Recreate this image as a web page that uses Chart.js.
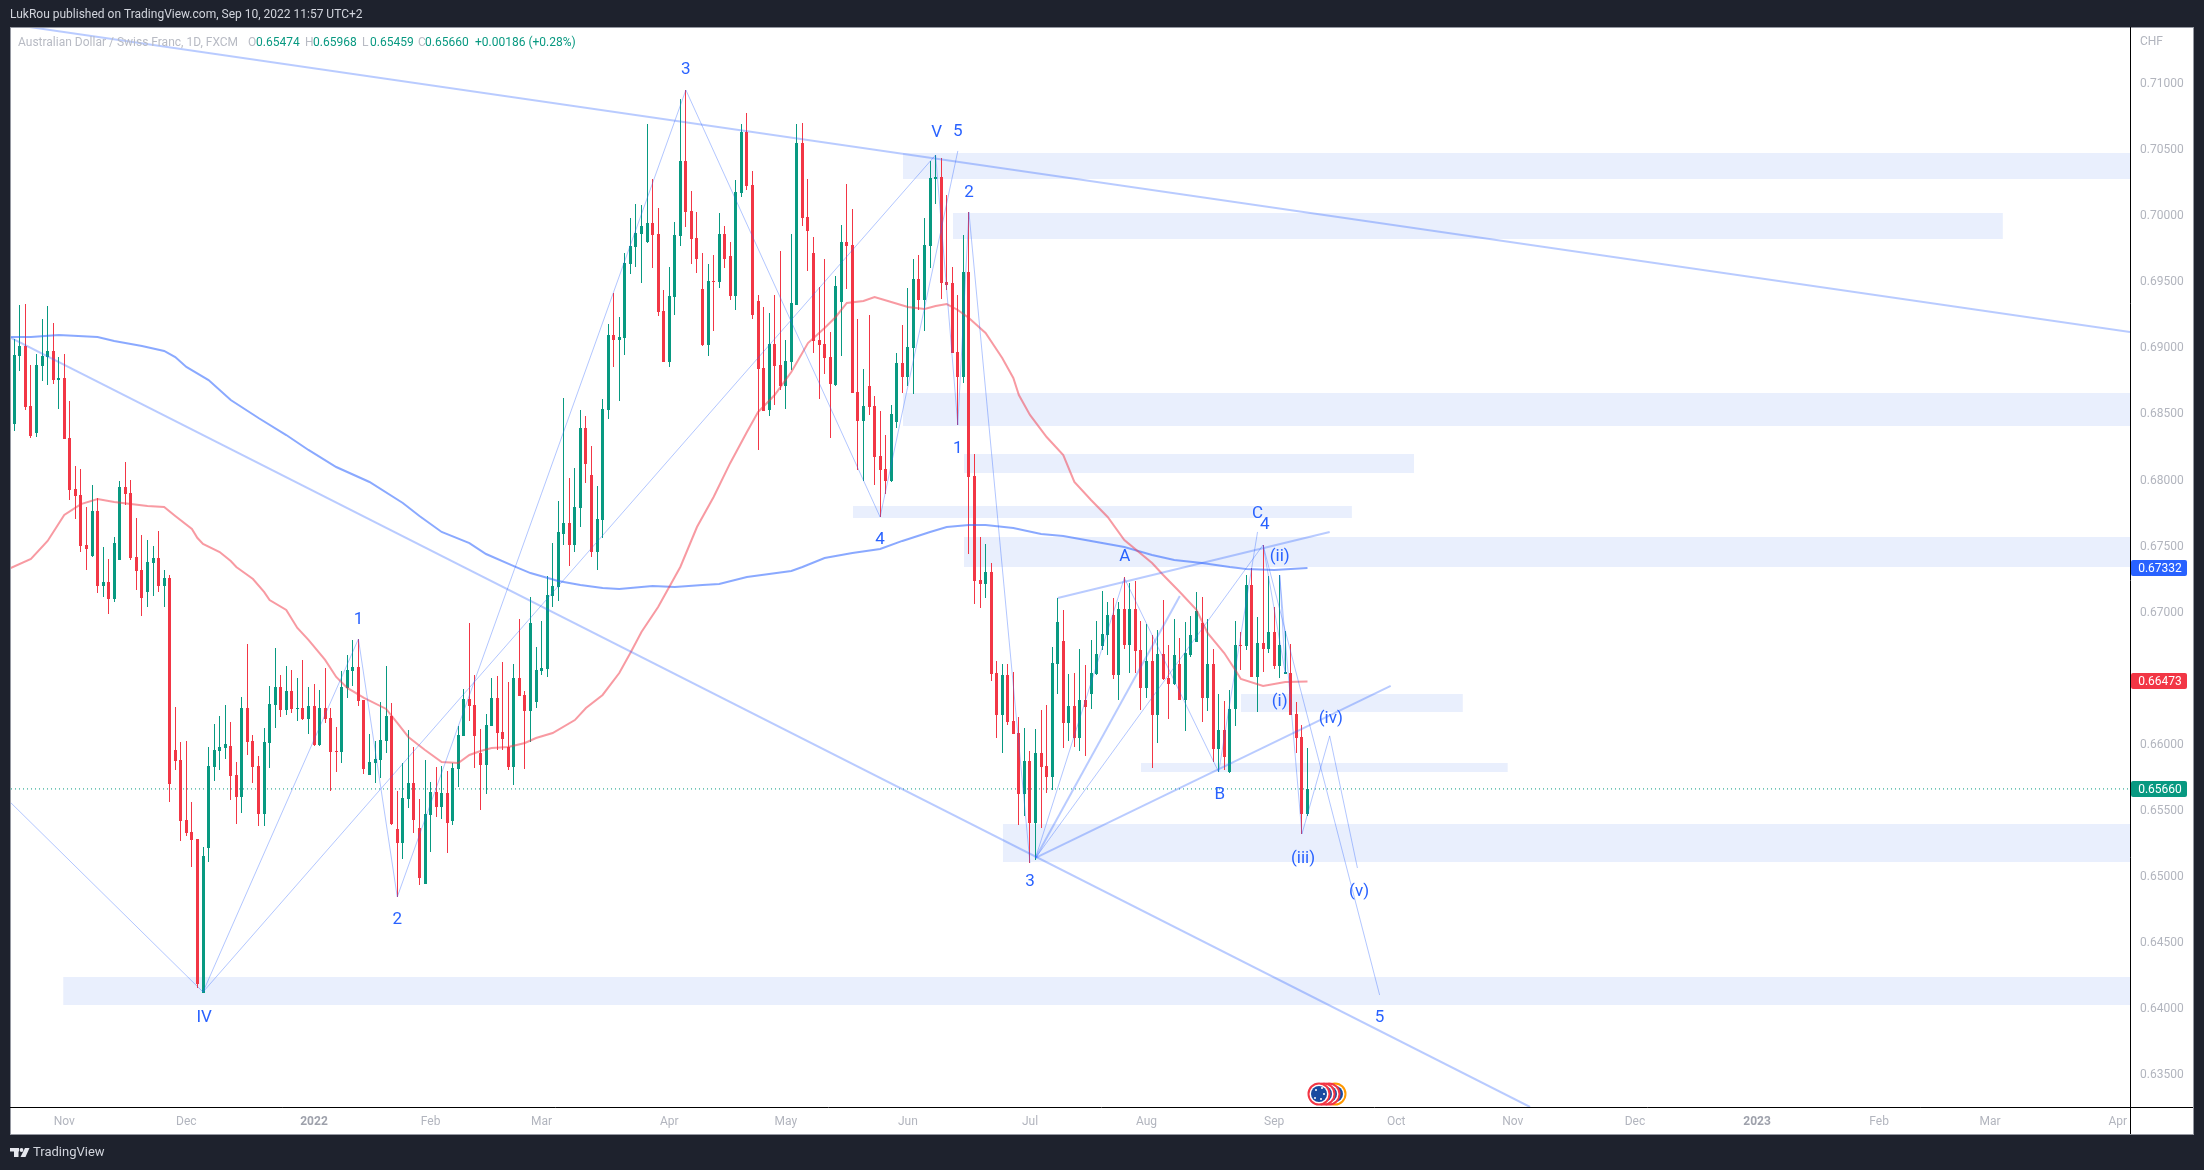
<!DOCTYPE html>
<html>
<head>
<meta charset="utf-8">
<title>AUD/CHF 1D</title>
<style>html,body{margin:0;padding:0;background:#1E222D}canvas{display:block}</style>
<script src="https://cdn.jsdelivr.net/npm/chart.js@4/dist/chart.umd.js"></script>
</head>
<body>
<canvas id="c" width="2204" height="1170"></canvas>
<script>
const opens=[.68436,.68421,.68935,.69011,.68557,.68353,.68859,.68927,.68973,.68753,
.68768,.68315,.67929,.67883,.67505,.67422,.67763,.67195,.67225,.67097,
.67392,.67944,.67899,.67414,.67316,.67150,.67369,.67407,.67195,.67256,
.65955,.65879,.65425,.65335,.65282,.64117,.65213,.65826,.65947,.65970,
.65985,.65766,.65599,.66273,.66023,.65834,.65471,.66008,.66295,.66431,
.66257,.66401,.66265,.66273,.66189,.66288,.65992,.66273,.66197,.65947,
.65940,.66424,.66552,.66582,.66333,.65766,.65856,.65879,.66023,.66212,
.65357,.65251,.65584,.65705,.65365,.64941,.65463,.65637,.65524,.65630,
.65418,.65811,.66061,.66340,.66295,.65932,.65841,.66136,.66348,.66091,
.65978,.65826,.66499,.66371,.66250,.66318,.66552,.66567,.67119,.67188,
.67589,.67672,.67505,.67785,.68390,.68035,.67452,.67695,.68527,.69094,
.69056,.69071,.69631,.69759,.69858,.69797,.69941,.69858,.69275,.68890,
.69381,.69843,.70410,.70032,.69828,.69442,.69018,.69502,.69495,.69858,
.69691,.69389,.70168,.70629,.70228,.69351,.68844,.68527,.69026,.68867,
.68708,.68890,.69321,.70546,.69986,.69714,.69056,.69026,.68927,.68716,
.69343,.69797,.69775,.68663,.68443,.68708,.68557,.68179,.68080,.67989,
.68436,.68882,.68776,.68996,.69517,.69359,.69767,.70274,.70289,.69495,
.69487,.68965,.68776,.69570,.68027,.67241,.67210,.67301,.66537,.66219,
.66522,.66174,.66083,.65622,.65872,.65400,.65932,.65834,.65751,.66605,
.66779,.66159,.66288,.66046,.66333,.66378,.66530,.66741,.66825,.66976,
.66522,.67021,.66749,.67021,.66711,.66424,.66628,.66219,.66681,.66499,
.66454,.66605,.66333,.66673,.66772,.66916,.66348,.66605,.65962,.66106,
.65788,.66265,.66749,.66741,.67203,.66507,.66764,.66719,.66847,.66590,
.66530,.66537,.66227,.66053,.65474];
const highs=[.68451,.69064,.69322,.69328,.68867,.68950,.69215,.69313,.69185,.68927,
.68950,.68594,.68103,.68080,.67793,.67959,.67861,.67490,.67399,.67566,
.67989,.68133,.67997,.67710,.67581,.67543,.67498,.67611,.67316,.67278,
.66280,.66015,.66023,.65562,.65282,.65221,.65978,.66151,.66212,.66295,
.66166,.65864,.66356,.66757,.66068,.65909,.66121,.66439,.66726,.66522,
.66590,.66560,.66499,.66636,.66431,.66454,.66409,.66575,.66273,.66129,
.66552,.66673,.66787,.66794,.66333,.66076,.66023,.66318,.66590,.66310,
.65645,.65856,.66106,.65978,.65584,.65879,.65713,.65826,.65834,.65796,
.65856,.66136,.66416,.66916,.66522,.66114,.66227,.66499,.66514,.66620,
.66469,.66605,.66946,.66401,.67112,.66734,.66931,.67271,.67521,.67838,
.68617,.68012,.68088,.68527,.68481,.68254,.67951,.68610,.69177,.69412,
.69230,.69714,.69979,.70085,.70077,.70690,.70274,.70054,.69434,.69608,
.69948,.70879,.70947,.70183,.70024,.69714,.69631,.69699,.70017,.69918,
.69797,.70266,.70690,.70773,.70334,.69396,.69306,.69260,.69396,.69729,
.69056,.69858,.70690,.70697,.70274,.69835,.69457,.69669,.69116,.69540,
.69926,.70236,.70047,.69215,.68837,.69245,.68632,.68519,.68337,.68564,
.68958,.69170,.69449,.69669,.69699,.69979,.70410,.70455,.70433,.70153,
.69608,.69396,.69850,.70024,.68194,.67566,.67513,.67369,.66628,.66605,
.66605,.66545,.66204,.66121,.65947,.66114,.66257,.66295,.66734,.67104,
.67014,.66530,.66537,.66719,.66598,.66787,.66931,.67157,.67074,.67104,
.67074,.67263,.67218,.67233,.66931,.66908,.66825,.66863,.67089,.66749,
.66946,.66802,.66923,.66968,.67150,.67112,.66946,.66719,.66378,.66325,
.66409,.66931,.66847,.67278,.67331,.66961,.67505,.67271,.67036,.67278,
.66855,.66757,.66318,.66144,.65968];
const lows=[.68390,.68368,.68821,.68527,.68315,.68322,.68746,.68716,.68723,.68534,
.68307,.67846,.67702,.67452,.67316,.67414,.67142,.67112,.66983,.67074,
.67392,.67808,.67392,.67165,.66968,.67036,.67119,.67150,.67036,.65562,
.65804,.65266,.65304,.65070,.64155,.64117,.65107,.65720,.65804,.65886,
.65577,.65395,.65478,.65917,.65705,.65380,.65380,.65819,.66121,.66204,
.66219,.66235,.66174,.66181,.66076,.65985,.65985,.66159,.65645,.65788,
.65856,.66348,.66439,.66288,.65773,.65766,.65705,.65743,.65932,.65388,
.64843,.65130,.65516,.65327,.64934,.64941,.65183,.65448,.65433,.65176,
.65388,.65675,.66061,.66174,.65819,.65501,.65622,.66136,.65955,.65955,
.65804,.65690,.66363,.65811,.66015,.66273,.66522,.66507,.67036,.67082,
.67505,.67346,.67452,.67641,.67974,.67414,.67316,.67558,.68458,.68852,
.68594,.68942,.69555,.69608,.69487,.69790,.69601,.69237,.68890,.68852,
.69245,.69767,.69911,.69631,.69563,.69010,.68935,.69124,.69449,.69601,
.69359,.69283,.70138,.70191,.69215,.68224,.68519,.68481,.68564,.68678,
.68534,.68829,.69321,.69918,.69578,.68958,.68610,.68799,.68315,.68708,
.68935,.69442,.68655,.68073,.67989,.68489,.67959,.67717,.67891,.67982,
.68390,.68655,.68708,.68647,.69283,.69124,.69601,.70085,.69366,.69434,
.68958,.68413,.68731,.67437,.67059,.67029,.67104,.66477,.66046,.65932,
.66144,.66076,.65388,.65456,.65100,.65123,.65365,.65630,.65652,.66378,
.65970,.66023,.65978,.65947,.65909,.66265,.66522,.66711,.66673,.66492,
.66333,.66719,.66537,.66537,.66257,.66348,.65819,.66008,.66484,.66189,
.66446,.66333,.66098,.66658,.66772,.66166,.66250,.65864,.65788,.65804,
.65781,.66136,.66560,.66711,.66507,.66242,.66545,.66688,.66568,.66499,
.66530,.66219,.65932,.65319,.65459];
const closes=[.68413,.68942,.69011,.68549,.68330,.68867,.68935,.68973,.68753,.68768,
.68307,.67921,.67876,.67498,.67475,.67763,.67195,.67225,.67097,.67521,
.67944,.67891,.67407,.67309,.67104,.67377,.67407,.67195,.67256,.65698,
.65872,.65418,.65327,.65274,.64185,.65153,.65834,.65955,.65978,.66000,
.65758,.65599,.66273,.66015,.65826,.65471,.66015,.66303,.66431,.66257,
.66401,.66265,.66273,.66189,.66288,.65992,.66273,.66189,.65940,.65940,
.66431,.66560,.66582,.66325,.65811,.65864,.65886,.66030,.66212,.65395,
.65251,.65592,.65705,.65425,.64986,.65471,.65637,.65524,.65630,.65403,
.65819,.66068,.66340,.66288,.66061,.65841,.66144,.66348,.66083,.66038,
.65826,.66499,.66363,.66250,.66916,.66560,.66575,.67127,.67195,.67604,
.67672,.67505,.67793,.68390,.68118,.67452,.67702,.68534,.69094,.69056,
.69079,.69639,.69767,.69865,.69918,.69941,.69850,.69268,.68890,.69389,
.69850,.70410,.70024,.69820,.69669,.69018,.69502,.69495,.69858,.69669,
.69389,.70175,.70629,.70221,.69245,.68837,.68519,.69026,.68859,.68708,
.68897,.69336,.70546,.69979,.69880,.69048,.69018,.68920,.68723,.69464,
.69797,.69767,.68655,.68443,.68557,.68549,.68171,.68073,.67989,.68496,
.68882,.68776,.69003,.69517,.69359,.69775,.70281,.70289,.69487,.69472,
.68958,.68776,.69570,.68020,.67233,.67210,.67301,.66530,.66219,.66522,
.66166,.66076,.65622,.65872,.65400,.65932,.65826,.65751,.66613,.66923,
.66159,.66288,.66046,.66333,.66280,.66537,.66681,.66832,.66976,.66522,
.67021,.66749,.67021,.66704,.66424,.66628,.66219,.66681,.66492,.66454,
.66673,.66333,.66688,.66825,.67006,.66348,.66605,.65962,.66106,.65902,
.66265,.66749,.66741,.67203,.66507,.66764,.66719,.66847,.66590,.66749,
.66545,.66219,.66046,.65471,.65660];

const ma50Idx=[0,4,7,10,13,16,19,22,25,28,30,33,34,35,38,40,41,42,44,46,47,50,52,54,57,59,61,64,68,70,72,75,78,81,83,85,87,90,93,95,98,102,104,107,110,112,114,117,118,121,124,127,130,133,135,138,141,144,147,149,151,154,156,159,162,165,167,169,171,173,176,179,181,182,184,187,190,192,195,198,201,206,208,211,214,216,219,221,222,226,230,234];
const ma50=[.67324,.67400,.67536,.67732,.67815,.67853,.67831,.67815,.67800,.67793,.67725,.67626,.67558,.67513,.67452,.67384,.67339,.67308,.67248,.67150,.67089,.67014,.66878,.66787,.66636,.66507,.66424,.66348,.66265,.66159,.66053,.65954,.65864,.65856,.65917,.65947,.65970,.65977,.66008,.66045,.66083,.66181,.66272,.66371,.66537,.66688,.66847,.67036,.67112,.67339,.67641,.67868,.68126,.68360,.68511,.68640,.68814,.69033,.69147,.69230,.69336,.69351,.69381,.69343,.69305,.69290,.69313,.69328,.69283,.69222,.69109,.68920,.68769,.68640,.68489,.68322,.68186,.67982,.67846,.67717,.67543,.67369,.67278,.67150,.67014,.66840,.66688,.66560,.66492,.66439,.66469,.66473];
const ma200Idx=[0,4,9,16,19,24,28,30,32,36,40,45,50,54,59,65,71,74,78,83,86,91,94,99,103,107,110,116,120,125,128,133,137,141,143,147,152,157,161,166,169,173,176,181,186,190,195,201,206,210,215,220,223,228,234];
const ma200=[.69079,.69079,.69094,.69079,.69048,.69011,.68973,.68927,.68852,.68753,.68602,.68466,.68337,.68224,.68095,.67982,.67823,.67725,.67604,.67520,.67437,.67346,.67293,.67233,.67203,.67180,.67172,.67195,.67188,.67203,.67210,.67263,.67286,.67309,.67339,.67407,.67445,.67475,.67536,.67604,.67641,.67657,.67657,.67634,.67589,.67574,.67536,.67490,.67430,.67392,.67369,.67339,.67324,.67317,.67332];

const yTickValues=[.635,.64,.645,.65,.655,.66,.665,.67,.675,.68,.685,.69,.695,.70,.705,.71];
const xTickIdx=[10,32,55,76,96,119,140,162,184,205,228,250,271,293,315,337,357,380];
const xTickText=['Nov','Dec','2022','Feb','Mar','Apr','May','Jun','Jul','Aug','Sep','Oct','Nov','Dec','2023','Feb','Mar','Apr'];
const xMin=0.405, xMax=382.2, yMin=.63254, yMax=.71416;

// price zones: start index, end index, top price, bottom price
const zoneStart=[161.1,170.1,161.1,172.1,152.1,172.1,222,204,179.1,9.8];
const zoneEnd=[xMax,359.3,xMax,253.2,242,xMax,262,270.1,xMax,xMax];
const zoneTop=[.70470,.70017,.68655,.68194,.67800,.67566,.66378,.65856,.65395,.64238];
const zoneBottom=[.70274,.69820,.68405,.68050,.67710,.67339,.66242,.65788,.65107,.64026];

// thick trendlines
const thickLines=[
 [[3.65,.71424],[xMax,.69116]],
 [[.41,.69071],[274.1,.63254]],
 [[185,.65138],[211,.67120]],
 [[189,.67104],[238,.67604]],
 [[185,.65138],[249,.66439]]
];
// thin wave counts
const thinLines=[
 [[.41,.65554],[35,.64124],[63,.66794],[70,.64843],[122,.70947],[157,.67717],[171,.70486]],
 [[35,.64124],[167,.70455],[171,.68413],[173,.70024],[184,.65100]],
 [[185,.65138],[201,.67256],[218,.65788],[225,.67604]],
 [[185,.65138],[226,.67505],[247,.64101]],
 [[226,.67505],[230,.66537],[229,.67278],[233,.65319],[238,.66061],[243,.65062]]
];
const waveText=['3','V','5','2','1','4','A','C','4','(ii)','(i)','(iv)','B','3','(iii)','(v)','5','1','2','IV'];
const waveIdx=[122,167.2,171,173,171,157,201.1,225,226.3,229,229,238.2,218.2,184,233.2,243.3,247,63,70,35.2];
const wavePrice=[.71113,.70637,.70644,.70183,.68247,.67558,.67430,.67755,.67672,.67430,.66333,.66204,.65630,.64974,.65145,.64896,.63943,.66953,.64684,.63943];

const GREEN='#089981', RED='#F23645', BLUE='#2962FF', FONT='Roboto';
const lastClose=closes[closes.length-1];
const candleColor=i=>closes[i]>=opens[i]?GREEN:RED;
const candleIdx=opens.map((_,i)=>i);

const datasets=[];
zoneStart.forEach((s,k)=>datasets.push({type:'line',order:100,
  data:[{x:s,y:zoneTop[k]},{x:zoneEnd[k],y:zoneTop[k]}],
  fill:{target:{value:zoneBottom[k]},above:'#E9EFFD',below:'#E9EFFD'},
  borderWidth:0,borderColor:'rgba(0,0,0,0)',pointRadius:0}));
datasets.push({type:'line',order:60,data:[{x:xMin,y:lastClose},{x:xMax,y:lastClose}],
  borderColor:GREEN,borderWidth:1,borderDash:[1,3],pointRadius:0});
datasets.push({type:'bar',order:50,grouped:false,barThickness:1,inflateAmount:0,borderWidth:0,
  data:candleIdx.map(i=>({x:i,y:[lows[i],highs[i]]})),backgroundColor:candleIdx.map(candleColor)});
datasets.push({type:'bar',order:49,grouped:false,barThickness:3,inflateAmount:0,borderWidth:0,
  data:candleIdx.map(i=>({x:i,y:[Math.min(opens[i],closes[i]),Math.max(opens[i],closes[i])]})),backgroundColor:candleIdx.map(candleColor)});
datasets.push({type:'line',order:20,data:ma50Idx.map((x,k)=>({x,y:ma50[k]})),borderColor:'rgba(242,54,69,0.5)',borderWidth:2,pointRadius:0,tension:0});
datasets.push({type:'line',order:20,data:ma200Idx.map((x,k)=>({x,y:ma200[k]})),borderColor:'rgba(41,98,255,0.55)',borderWidth:2,pointRadius:0,tension:0});
thickLines.forEach(l=>datasets.push({type:'line',order:10,data:l.map(p=>({x:p[0],y:p[1]})),borderColor:'rgba(41,98,255,0.33)',borderWidth:2,pointRadius:0,tension:0}));
thinLines.forEach(l=>datasets.push({type:'line',order:10,data:l.map(p=>({x:p[0],y:p[1]})),borderColor:'rgba(41,98,255,0.36)',borderWidth:1,pointRadius:0,tension:0}));

const snap={id:'snap',afterDatasetsUpdate(chart){
  chart.data.datasets.forEach((d,i)=>{ if(d.type!=='bar')return;
    chart.getDatasetMeta(i).data.forEach(el=>{
      el.x=Math.floor(el.x)+0.5;
      let a=Math.round(el.y),b=Math.round(el.base);
      if(a===b)b=a+1;
      el.y=a;el.base=b;
    });
  });
}};

const frame={id:'frame',
 beforeDraw(chart){
  const c=chart.ctx;
  c.save();
  c.fillStyle='#1E222D';c.fillRect(0,0,2204,1170);
  c.fillStyle='#fff';c.fillRect(10,27,2184,1108);
  c.strokeStyle='#9598A1';c.lineWidth=1;c.strokeRect(10.5,27.5,2183,1107);
  c.fillStyle='#D1D4DC';c.font='12px '+FONT;c.textBaseline='middle';c.textAlign='left';
  c.fillText('LukRou published on TradingView.com, Sep 10, 2022 11:57 UTC+2',10,15);
  // TradingView mark
  c.fillStyle='#E6E8EE';
  c.fillRect(10,1148,9,3.5);c.fillRect(14,1148,4.5,9);
  c.beginPath();c.arc(21.5,1150,1.9,0,7);c.fill();
  c.beginPath();c.moveTo(25,1148);c.lineTo(29.5,1148);c.lineTo(25.5,1157);c.lineTo(20.5,1157);c.closePath();c.fill();
  c.font='13px '+FONT;c.fillStyle='#D1D4DC';c.fillText('TradingView',33,1152.5);
  c.restore();
 },
 afterDraw(chart){
  const c=chart.ctx,y=chart.scales.y,x=chart.scales.x;
  c.save();
  c.strokeStyle='#000';c.lineWidth=1;
  c.beginPath();c.moveTo(2130.5,27);c.lineTo(2130.5,1134);c.moveTo(10,1107.5);c.lineTo(2193,1107.5);c.stroke();
  c.textBaseline='middle';c.textAlign='left';
  // legend line
  const parts=[['Australian Dollar / Swiss Franc, 1D, FXCM',18,'#B8BBC4'],['O',248,'#B8BBC4'],['0.65474',256,GREEN],['H',305,'#B8BBC4'],['0.65968',313,GREEN],['L',362,'#B8BBC4'],['0.65459',370,GREEN],['C',418,'#B8BBC4'],['0.65660',425,GREEN],['+0.00186 (+0.28%)',475,GREEN]];
  c.font='12px '+FONT;
  parts.forEach(p=>{c.fillStyle=p[2];c.fillText(p[0],p[1],42.5);});
  c.fillStyle='#B2B5BE';c.fillText('CHF',2140,42);
  // wave labels
  c.save();c.beginPath();c.rect(11,28,2119,1079);c.clip();
  c.font='17px '+FONT;c.fillStyle=BLUE;c.textAlign='center';
  waveText.forEach((t,k)=>c.fillText(t,x.getPixelForValue(waveIdx[k]),y.getPixelForValue(wavePrice[k])+2));
  // event badges
  [[1335,'#FF9800'],[1329,'#F23645'],[1324,'#F23645'],[1319,'#F23645']].forEach((b,k)=>{
    c.beginPath();c.arc(b[0],1094,10.5,0,7);c.fillStyle='#fff';c.fill();
    c.lineWidth=2;c.strokeStyle=b[1];c.stroke();
    c.beginPath();c.arc(b[0],1094,8,0,7);c.fillStyle='#1A4BA0';c.fill();
  });
  c.fillStyle='#fff';
  [[1316,1090],[1322,1088],[1324,1094],[1321,1099],[1315,1098]].forEach(s=>{c.beginPath();c.arc(s[0],s[1],1,0,7);c.fill();});
  c.restore();
  // price tags
  c.textAlign='center';c.font='12px '+FONT;
  [[ma200[ma200.length-1],BLUE],[ma50[ma50.length-1],RED],[lastClose,GREEN]].forEach(t=>{
    const py=Math.round(y.getPixelForValue(t[0]));
    c.fillStyle=t[1];c.beginPath();c.roundRect(2131,py-8,56,16,2);c.fill();
    c.fillStyle='#fff';c.fillText(t[0].toFixed(5),2160,py+1);
  });
  c.restore();
 }};

new Chart(document.getElementById('c'),{
 type:'bar',
 data:{datasets},
 plugins:[snap,frame],
 options:{
  responsive:false,animation:false,events:[],
  devicePixelRatio:1,
  layout:{padding:{left:11,top:28,right:11,bottom:36}},
  plugins:{legend:{display:false},tooltip:{enabled:false},title:{display:false}},
  scales:{
   x:{type:'linear',offset:false,min:xMin,max:xMax,grid:{display:false,drawTicks:false},border:{display:false},
    afterFit(s){s.height=27;},
    afterBuildTicks(s){s.ticks=xTickIdx.map(v=>({value:v}));},
    ticks:{autoSkip:false,maxRotation:0,padding:8,
     color:ctx=>/^\d/.test(xTickText[ctx.index]||'')?'#9EA1AB':'#B2B5BE',
     font:ctx=>({family:FONT,size:12,weight:/^\d/.test(xTickText[ctx.index]||'')?'bold':'normal'}),
     callback:(v,i)=>xTickText[i]}},
   y:{type:'linear',position:'right',min:yMin,max:yMax,grid:{display:false,drawTicks:false},border:{display:false},
    afterFit(s){s.width=63;},
    afterBuildTicks(s){s.ticks=yTickValues.map(v=>({value:v}));},
    ticks:{padding:10,labelOffset:1,color:'#B2B5BE',font:{family:FONT,size:12},callback:v=>Number(v).toFixed(5)}}
  }
 }
});
</script>
</body>
</html>
